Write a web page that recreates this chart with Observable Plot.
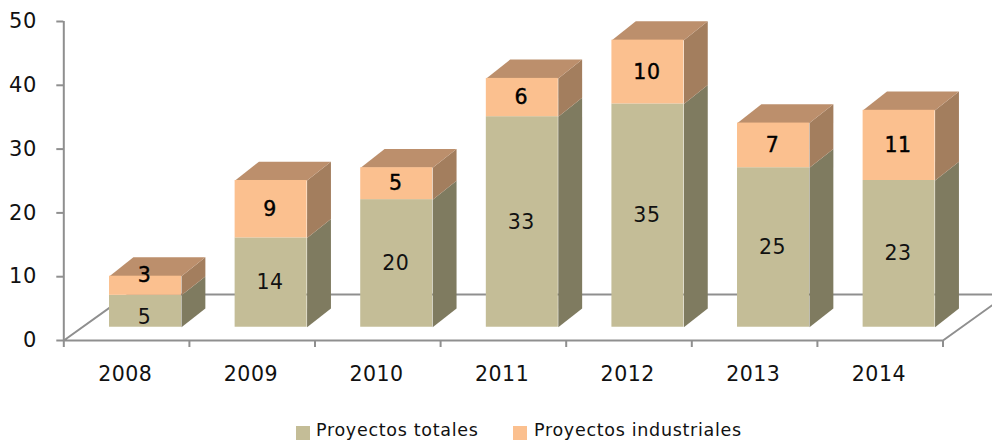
<!DOCTYPE html>
<html>
<head>
<meta charset="utf-8">
<script src="https://cdn.jsdelivr.net/npm/d3@7"></script>
<script src="https://cdn.jsdelivr.net/npm/@observablehq/plot@0.6"></script>
<style>
html,body{margin:0;padding:0;background:#fff;overflow:hidden}
#legend{position:relative;height:22px;font:17.5px "DejaVu Sans",sans-serif;letter-spacing:.7px;color:#111}
#legend i{position:absolute;top:6px;width:14px;height:14px}
#legend span{position:absolute;top:0px;white-space:nowrap}
</style>
</head>
<body>
<div id="chart"></div>
<div id="legend">
  <i style="left:296px;background:#c4bd97"></i><span style="left:316px">Proyectos totales</span>
  <i style="left:513px;background:#fbc08f"></i><span style="left:534px">Proyectos industriales</span>
</div>
<script>
const years = ["2008", "2009", "2010", "2011", "2012", "2013", "2014"];
const totales = [5, 14, 20, 33, 35, 25, 23];
const industriales = [3, 9, 5, 6, 10, 7, 11];
const yTicks = [0, 10, 20, 30, 40, 50];

const grey = "#8f8f8f";
const font = "DejaVu Sans";
const H = 420;

// oblique projection, in scale units
const base = 2.08, depthY = 2.95, depthX = 0.19, start = 0.364, barW = 0.573;
const floorX = 0.51, floorY = 7.2;

const segs = years.flatMap((yr, i) => [
  {i, s: 0, v: totales[i], y0: base, y1: base + totales[i]},
  {i, s: 1, v: industriales[i], y0: base + totales[i], y1: base + totales[i] + industriales[i]}
]);
const side = segs.flatMap(d => {
  const x = d.i + start + barW, id = d.i + "-" + d.s;
  return [[x, d.y0], [x + depthX, d.y0 + depthY], [x + depthX, d.y1 + depthY], [x, d.y1]]
    .map(([px, py]) => ({id, s: d.s, px, py}));
});
const top3d = years.flatMap((yr, i) => {
  const x = i + start, t = base + totales[i] + industriales[i];
  return [[x, t], [x + depthX, t + depthY], [x + barW + depthX, t + depthY], [x + barW, t]]
    .map(([px, py]) => ({id: i, px, py}));
});
const n = years.length;
const floor = [[0, 0], [floorX, floorY], [n + floorX, floorY], [n, 0], [0, 0]].map(([px, py]) => ({px, py}));

const chart = Plot.plot({
  width: 992, height: H,
  marginLeft: 63.3, marginRight: 49.5, marginTop: 21, marginBottom: H - 340,
  x: {type: "linear", domain: [0, n], axis: null},
  y: {domain: [0, 50], axis: null},
  style: {background: "#fff", fontFamily: font, letterSpacing: "0.5px"},
  marks: [
    Plot.line(floor, {x: "px", y: "py", stroke: grey, strokeWidth: 2, strokeLinejoin: "miter"}),
    Plot.ruleX([0], {y1: 0, y2: 50, stroke: grey, strokeWidth: 2}),
    Plot.axisY(yTicks, {anchor: "left", tickSize: 7, tickPadding: 20, stroke: grey, strokeWidth: 2, fill: "#111", fontSize: 21, label: null}),
    Plot.axisX(d3.range(n + 1), {anchor: "bottom", tickSize: 7, stroke: grey, strokeWidth: 2, tickFormat: () => "", label: null}),
    Plot.axisX(d3.range(n), {anchor: "bottom", tickSize: 0, tickPadding: 26, dx: 61.5, fill: "#111", fontSize: 20.5, tickFormat: i => years[i], label: null}),
    Plot.line(side.filter(d => d.s === 0), {x: "px", y: "py", z: "id", fill: "#7f7b60", stroke: "none", curve: "linear-closed"}),
    Plot.line(side.filter(d => d.s === 1), {x: "px", y: "py", z: "id", fill: "#a37e5e", stroke: "none", curve: "linear-closed"}),
    Plot.line(top3d, {x: "px", y: "py", z: "id", fill: "#bc8f6c", stroke: "none", curve: "linear-closed"}),
    Plot.rect(segs.filter(d => d.s === 0), {x1: d => d.i + start, x2: d => d.i + start + barW, y1: "y0", y2: "y1", fill: "#c4bd97"}),
    Plot.rect(segs.filter(d => d.s === 1), {x1: d => d.i + start, x2: d => d.i + start + barW, y1: "y0", y2: "y1", fill: "#fbc08f"}),
    Plot.text(segs.filter(d => d.s === 0 && d.i > 0), {x: d => d.i + start + barW / 2, y: d => (d.y0 + d.y1) / 2, dx: -1, text: "v", fill: "#111", fontSize: 20.5}),
    Plot.text(segs.filter(d => d.s === 0 && d.i === 0), {x: d => d.i + start + barW / 2, y: d => (d.y0 + d.y1) / 2, dx: -1, dy: 6, text: "v", fill: "#111", fontSize: 20.5}),
    Plot.text(segs.filter(d => d.s === 1 && d.i > 0), {x: d => d.i + start + barW / 2, y: d => (d.y0 + d.y1) / 2, dx: -1, text: "v", fill: "#000", stroke: "#000", strokeWidth: 0.4, fontSize: 20.5}),
    Plot.text(segs.filter(d => d.s === 1 && d.i === 0), {x: d => d.i + start + barW / 2, y: d => (d.y0 + d.y1) / 2, dx: -1, dy: -10, text: "v", fill: "#000", stroke: "#000", strokeWidth: 0.4, fontSize: 20.5})
  ]
});
document.getElementById("chart").append(chart);
chart.style.display = "block";
</script>
</body>
</html>
